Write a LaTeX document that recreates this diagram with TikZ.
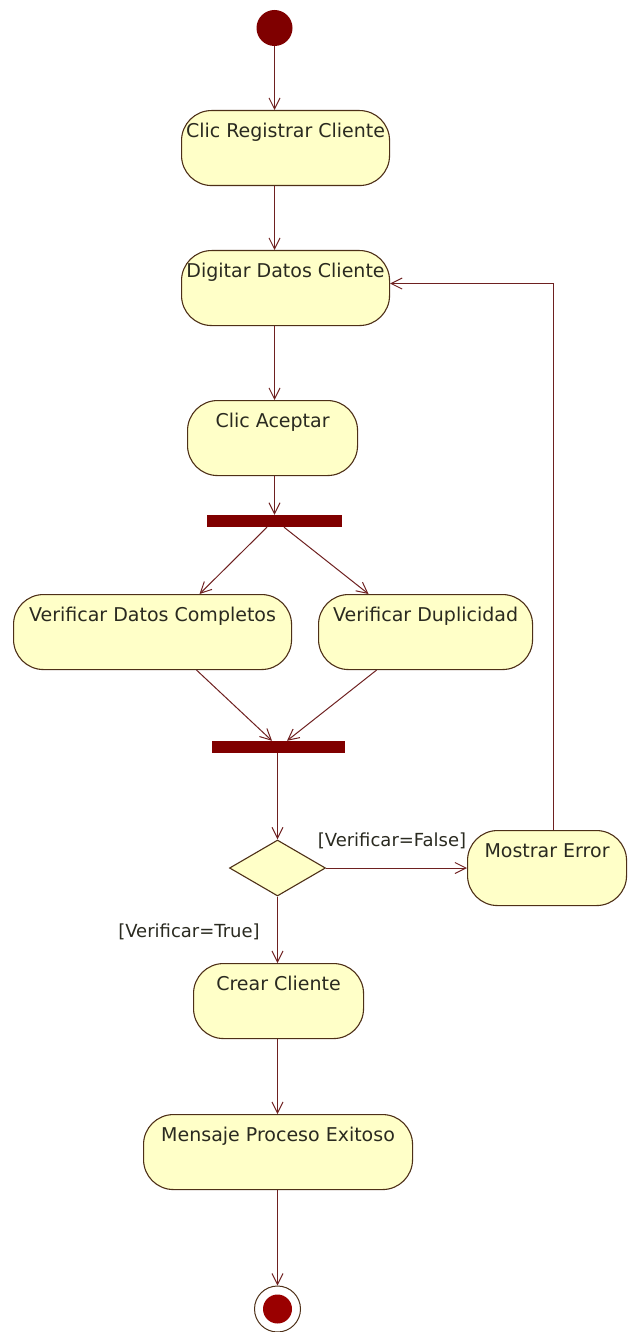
\documentclass[tikz,border=0pt]{standalone}
\usepackage{fontspec}
\setmainfont{DejaVu Sans}
\usetikzlibrary{arrows.meta,shapes.geometric}
\definecolor{actfill}{HTML}{FFFFC8}
\definecolor{bordercol}{HTML}{4E3018}
\definecolor{linecol}{HTML}{6E2020}
\definecolor{barcol}{HTML}{800000}
\definecolor{startcol}{HTML}{7F0000}
\definecolor{endcol}{HTML}{9A0000}
\definecolor{txtcol}{HTML}{2A2A20}
\begin{document}
\begin{tikzpicture}[x=1pt,y=-1pt,
  actbox/.style={draw=bordercol, fill=actfill, line width=1.1pt, rounded corners=30pt,
    inner xsep=0pt, inner ysep=0pt, text height=27pt, text depth=48pt,
    anchor=north west, text=txtcol, font=\fontsize{19}{22}\selectfont},
  barbox/.style={fill=barcol, draw=none, inner sep=0pt, minimum height=12pt},
  flow/.style={draw=linecol, line width=1pt,
    -{Straight Barb[length=11pt,width=11pt,line width=1pt]}},
  guard/.style={text=txtcol, font=\fontsize{18}{20}\selectfont, inner sep=0pt}
]
\useasboundingbox (0,0) rectangle (627,1332);

% start
\node[circle, fill=startcol, minimum size=36pt, inner sep=0pt] (s) at (274.5,28) {};
% activities
\node[actbox, minimum width=208pt] (n1) at (181,110) {Clic Registrar Cliente};
\node[actbox, minimum width=208pt] (n2) at (181,250) {Digitar Datos Cliente};
\node[actbox, minimum width=170pt] (n3) at (187,400) {Clic Aceptar};
\node[barbox, minimum width=135pt] (f1) at (274.5,521) {};
\node[actbox, minimum width=278pt] (n4) at (13,594) {Verificar Datos Completos};
\node[actbox, minimum width=214pt] (n5) at (318,594) {Verificar Duplicidad};
\node[barbox, minimum width=133pt] (j1) at (278.5,747) {};
\node[diamond, draw=bordercol, fill=actfill, line width=1.1pt, inner sep=0pt,
      minimum width=96pt, minimum height=56pt] (d) at (277.5,868) {};
\node[actbox, minimum width=159pt] (n6) at (467,830) {Mostrar Error};
\node[actbox, minimum width=170pt] (n7) at (193,963) {Crear Cliente};
\node[actbox, minimum width=269pt] (n8) at (143,1114) {Mensaje Proceso Exitoso};
% end
\node[circle, draw=bordercol, fill=white, line width=1pt, minimum size=46pt, inner sep=0pt] (e) at (277.5,1309) {};
\node[circle, fill=endcol, minimum size=29pt, inner sep=0pt] (ei) at (277.5,1309) {};

% guards
\node[guard] (gf) at (392,841) {[Verificar=False]};
\node[guard] (gt) at (189,932) {[Verificar=True]};

% connectors
\draw[flow] (s) -- (s |- n1.north);
\draw[flow] (s |- n1.south) -- (s |- n2.north);
\draw[flow] (s |- n2.south) -- (s |- n3.north);
\draw[flow] (s |- n3.south) -- (s |- f1.north);
\draw[flow] ([xshift=-7.5pt]f1.south) -- ([xshift=47pt]n4.north);
\draw[flow] ([xshift=9.5pt]f1.south) -- ([xshift=-57pt]n5.north);
\draw[flow] ([xshift=44pt]n4.south) -- ([xshift=-6.5pt]j1.north);
\draw[flow] ([xshift=-49pt]n5.south) -- ([xshift=8.5pt]j1.north);
\draw[flow] (d.north |- j1.south) -- (d.north);
\draw[flow] (d.east) -- (d.east -| n6.west);
\draw[flow] ([xshift=6.5pt]n6.north) |- ([yshift=4.5pt]n2.east);
\draw[flow] (d.south) -- (d.south |- n7.north);
\draw[flow] (d.south |- n7.south) -- (d.south |- n8.north);
\draw[flow] (d.south |- n8.south) -- (e.north);
\end{tikzpicture}
\end{document}
